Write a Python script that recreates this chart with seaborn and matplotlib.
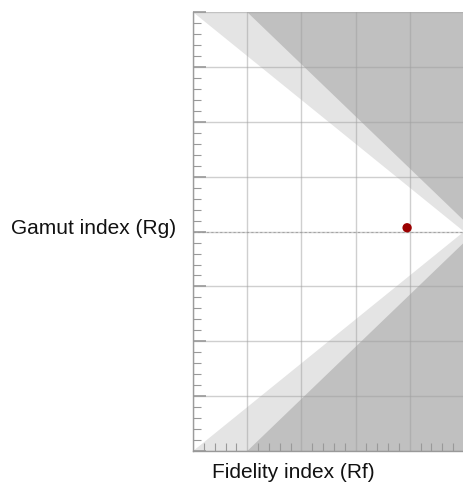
import matplotlib
matplotlib.use("Agg")
import matplotlib.pyplot as plt
import pandas as pd
import seaborn as sns

# chart range (TM-30 style Rf / Rg plot)
rf_range = [50, 100]
rg_range = [60, 140]

# shaded bounds
light_top_rf = [50, 100, 100]
light_top_rg = [140, 100, 140]
light_bot_rf = [50, 100, 100]
light_bot_rg = [60, 100, 60]
dark_top_rf = [60, 100, 100]
dark_top_rg = [140, 102, 140]
dark_bot_rf = [60, 100, 100]
dark_bot_rg = [60, 98, 60]

# measured source
source_rf = [89.5]
source_rg = [100.7]

sns.set_theme(style="white")
plt.rcParams['font.family'] = ['Liberation Sans', 'DejaVu Sans']

fig = plt.figure(figsize=(4.64, 4.84), dpi=100)
ax = fig.add_axes([0.416, 0.068, 0.584, 0.907])

ax.fill(light_top_rf, light_top_rg, color='#e4e4e4', lw=0, zorder=0)
ax.fill(light_bot_rf, light_bot_rg, color='#e4e4e4', lw=0, zorder=0)
ax.fill(dark_top_rf, dark_top_rg, color='#c0c0c0', lw=0, zorder=0.5)
ax.fill(dark_bot_rf, dark_bot_rg, color='#c0c0c0', lw=0, zorder=0.5)
ax.axhline(100, color='#aaaaaa', lw=0.8, ls=(0, (2, 2)), zorder=1)

df = pd.DataFrame({'Rf': source_rf, 'Rg': source_rg})
sns.scatterplot(data=df, x='Rf', y='Rg', color='#9b0000', s=45, edgecolor='none', ax=ax, zorder=3)

ax.set_xlim(*rf_range)
ax.set_ylim(*rg_range)
ax.set_xticks(range(50, 101, 10))
ax.set_yticks(range(60, 141, 10))
ax.set_xticks(range(50, 101, 2), minor=True)
ax.set_yticks(range(60, 141, 2), minor=True)
ax.set_xticklabels([])
ax.set_yticklabels([])
ax.grid(True, which='major', color='#a0a0a0', lw=1, alpha=0.5, zorder=1)
ax.set_axisbelow(False)
ax.tick_params(which='major', direction='in', length=0, color='#999999', left=True, bottom=True)
ax.tick_params(which='minor', direction='in', length=6, width=0.8, color='#999999', left=True, bottom=True)
ax.tick_params(axis='y', which='major', length=9, width=1.2)
for side in ['top', 'right']:
    ax.spines[side].set_visible(False)
for side in ['left', 'bottom']:
    ax.spines[side].set_color('#999999')
    ax.spines[side].set_linewidth(1)
ax.set_xlabel('')
ax.set_ylabel('')

fig.text(0.202, 0.528, 'Gamut index (Rg)', ha='center', va='center', fontsize=15, color='#111111')
fig.text(0.632, 0.024, 'Fidelity index (Rf)', ha='center', va='center', fontsize=15, color='#111111')

fig.savefig('out.png', dpi=100)
